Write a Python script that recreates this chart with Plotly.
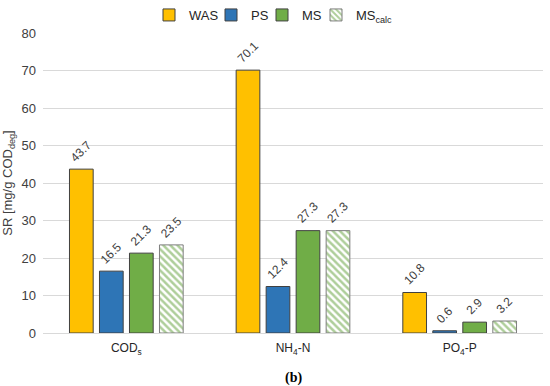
import plotly.graph_objects as go

categories = ["COD<sub>s</sub>", "NH<sub>4</sub>-N", "PO<sub>4</sub>-P"]
series_names = ["WAS", "PS", "MS", "MS<sub>calc</sub>"]
was = [43.7, 70.1, 10.8]
ps = [16.5, 12.4, 0.6]
ms = [21.3, 27.3, 2.9]
ms_calc = [23.5, 27.3, 3.2]
y_ticks = [0, 10, 20, 30, 40, 50, 60, 70, 80]

BARGAP = 0.28
GROUPGAP = 0.21

fig = go.Figure()
colors = ["#FFC000", "#2E75B6", "#70AD47", "#FFFFFF"]
values = [was, ps, ms, ms_calc]
legend_ids = ["legend", "legend2", "legend3", "legend4"]
legend_text_x = [189, 251, 302, 356]  # px where legend labels start
n = len(values)
for i, (name, vals, col) in enumerate(zip(series_names, values, colors)):
    marker = dict(color=col, line=dict(color="#404040", width=1))
    if name.startswith("MS<sub>"):
        marker = dict(color="#FFFFFF",
                      line=dict(color="#7F7F7F", width=1),
                      pattern=dict(shape="\\", fgcolor="#5E9E36", bgcolor="#FFFFFF",
                                   size=5, solidity=0.5))
    fig.add_trace(go.Bar(x=categories, y=vals, name=name, marker=marker,
                         legend=legend_ids[i]))
    slot = (1 - BARGAP) / n
    for j, v in enumerate(vals):
        fig.add_annotation(
            x=j + (i - (n - 1) / 2) * slot, y=v, xref="x", yref="y",
            text=f"{v:.1f}", showarrow=False, textangle=-45,
            xanchor="center", yanchor="bottom", yshift=2,
            font=dict(size=12, color="#404040", family="Liberation Sans, Arial"),
        )

legend_common = dict(orientation="h", xanchor="left", y=1.0, yanchor="top",
                     yref="container", xref="container",
                     font=dict(size=13, color="#262626"), itemwidth=30,
                     bgcolor="rgba(0,0,0,0)")
legends = {}
for lid, tx in zip(legend_ids, legend_text_x):
    legends[lid] = dict(legend_common, x=(tx - 40) / 550)

fig.update_layout(
    width=550, height=386,
    margin=dict(l=43, r=7, t=33, b=53, autoexpand=False),
    paper_bgcolor="white", plot_bgcolor="white",
    barmode="group", bargap=BARGAP, bargroupgap=GROUPGAP,
    font=dict(family="Liberation Sans, Arial", size=12, color="#404040"),
    xaxis=dict(showgrid=False, showline=True, linecolor="#D9D9D9", linewidth=1,
               ticks="", ticklabelstandoff=4, tickfont=dict(size=12, color="#262626"),
               automargin=False),
    yaxis=dict(range=[0, 80], tickvals=y_ticks, showgrid=True, gridcolor="#D9D9D9",
               zeroline=False, ticks="", ticklabelstandoff=6, automargin=False,
               tickfont=dict(size=13, color="#404040"),
               title=dict(text="SR [mg/g COD<sub>deg</sub>]", font=dict(size=13, color="#404040"),
                          standoff=6)),
    showlegend=True,
    **legends,
)
fig.add_annotation(text="<b>(b)</b>", xref="paper", yref="paper", x=0.5, y=-0.115,
                   showarrow=False, yanchor="top",
                   font=dict(family="Liberation Serif, Times New Roman", size=14, color="black"))
fig.write_html("out.html", config={"displayModeBar": False},
               post_script="document.body.style.margin='0px';")
